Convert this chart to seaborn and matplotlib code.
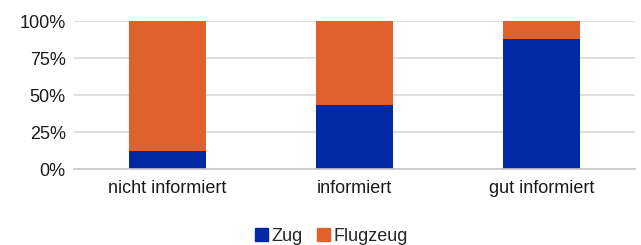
import pandas as pd
import matplotlib
matplotlib.use("Agg")
import matplotlib.pyplot as plt
import seaborn as sns
from matplotlib.patches import Patch
from matplotlib.ticker import FuncFormatter

# Daten
kategorien = ["nicht informiert", "informiert", "gut informiert"]
zug = [12, 43, 88]
flugzeug = [88, 57, 12]

blau = "#0029A3"
orange = "#E0612B"

df = pd.DataFrame({"Kategorie": kategorien, "Zug": zug, "Flugzeug": flugzeug})
df["Gesamt"] = df["Zug"] + df["Flugzeug"]

sns.set_style("white")
plt.rcParams["font.family"] = ["Liberation Sans", "DejaVu Sans"]

fig = plt.figure(figsize=(6.41, 2.45), dpi=100)
ax = fig.add_axes([74 / 641, 1 - 169 / 245, 561 / 641, 148 / 245])

# gestapelt: erst Gesamt (orange), dann Zug (blau) darüber
sns.barplot(data=df, x="Kategorie", y="Gesamt", color=orange, width=0.41,
            saturation=1, linewidth=0, ax=ax, zorder=2)
sns.barplot(data=df, x="Kategorie", y="Zug", color=blau, width=0.41,
            saturation=1, linewidth=0, ax=ax, zorder=3)

ax.set_xlim(-0.5, 2.5)
ax.set_ylim(0, 100)
ax.set_yticks([0, 25, 50, 75, 100])
ax.yaxis.set_major_formatter(FuncFormatter(lambda v, p: f"{v:.0f}%"))
ax.grid(axis="y", color="#d9d9d9", linewidth=1.2, zorder=0)
ax.set_axisbelow(True)
for s in ["top", "right", "left"]:
    ax.spines[s].set_visible(False)
ax.spines["bottom"].set_color("#c8c8c8")
ax.spines["bottom"].set_linewidth(1.2)
ax.spines["bottom"].set_zorder(4)
ax.set_xlabel("")
ax.set_ylabel("")
ax.tick_params(axis="both", length=0, labelsize=13, colors="#1a1a1a")
ax.tick_params(axis="x", pad=8)
ax.tick_params(axis="y", pad=6)

handles = [Patch(color=blau, label="Zug"), Patch(color=orange, label="Flugzeug")]
fig.legend(handles=handles, loc="center", bbox_to_anchor=(0.517, 0.035), ncol=2,
           frameon=False, fontsize=13, handlelength=0.7, handleheight=0.7,
           handletextpad=0.2, columnspacing=0.8, borderpad=0)

fig.savefig("out.png", dpi=100)
